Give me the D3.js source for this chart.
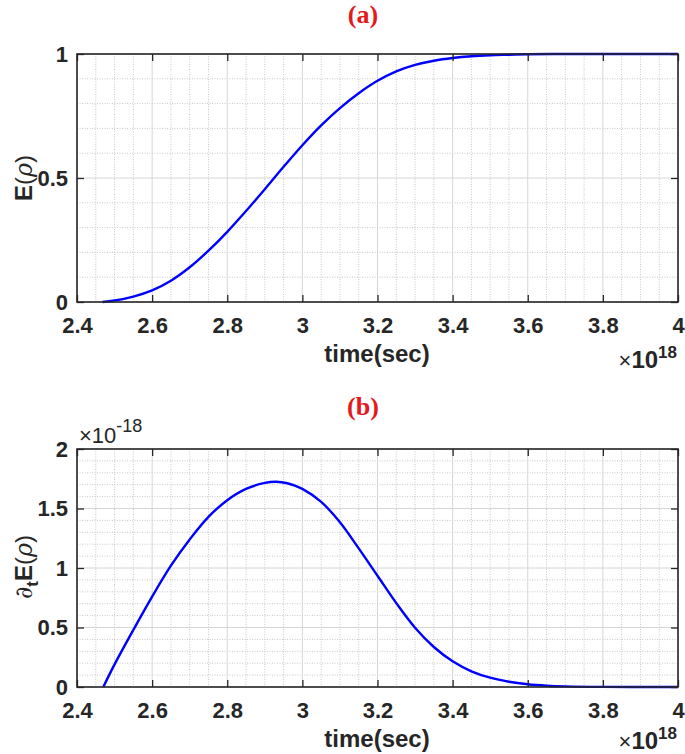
<!DOCTYPE html>
<html lang="en">
<head>
<meta charset="UTF-8">
<title>E(rho) and its time derivative</title>
<style>
  body { margin: 0; background: #fff; }
  svg text { font-family: "Liberation Sans", Arial, sans-serif; fill: #262626; }
</style>
</head>
<body>
<div id="chart"></div>
<script src="https://d3js.org/d3.v7.min.js"></script>
<script>
// time in units of 1e18 sec
var timeA = [2.468, 2.50, 2.55, 2.60, 2.65, 2.70, 2.75, 2.80, 2.85, 2.90, 2.95, 3.00, 3.05, 3.10,
  3.15, 3.20, 3.25, 3.30, 3.35, 3.40, 3.45, 3.50, 3.55, 3.60, 3.70, 3.80, 4.00];
var energy = [0, 0.006, 0.022, 0.047, 0.086, 0.14, 0.207, 0.283, 0.367, 0.455, 0.545, 0.632, 0.712, 0.782,
  0.842, 0.892, 0.930, 0.956, 0.973, 0.984, 0.991, 0.995, 0.997, 0.999, 1, 1, 1];

// derivative, in units of 1e-18
var timeB = [2.47, 2.50, 2.55, 2.60, 2.65, 2.70, 2.75, 2.80, 2.85, 2.90, 2.93, 2.96, 3.00, 3.05,
  3.10, 3.15, 3.20, 3.25, 3.30, 3.35, 3.40, 3.45, 3.50, 3.55, 3.60, 3.65, 3.70, 3.80, 3.90, 4.00];
var dEnergy = [0, 0.19, 0.48, 0.76, 1.02, 1.24, 1.43, 1.57, 1.665, 1.715, 1.725, 1.712, 1.665, 1.555,
  1.385, 1.165, 0.935, 0.705, 0.498, 0.336, 0.216, 0.132, 0.078, 0.044, 0.023, 0.011, 0.005, 0.0008, 0, 0];

var xTicks = [2.4, 2.6, 2.8, 3, 3.2, 3.4, 3.6, 3.8, 4];
var yTicksA = [0, 0.5, 1];
var yTicksB = [0, 0.5, 1, 1.5, 2];

var W = 685, H = 754;
var svg = d3.select('#chart').append('svg')
  .attr('width', W).attr('height', H);

var fmt = d3.format('~g');

function panel(opt) {
  var w = 601, h = opt.bottom - opt.top;
  var x = d3.scaleLinear().domain([2.4, 4]).range([0, w]);
  var y = d3.scaleLinear().domain(opt.yDomain).range([h, 0]);
  var g = svg.append('g').attr('transform', `translate(77, ${opt.top})`);

  // minor grid (dotted)
  var xMinor = d3.range(48, 81).filter(i => i % 4 != 0).map(i => i * 0.05);
  var yMinor = d3.range(0, opt.yDomain[1] * 10 + 1).filter(i => i % 5 != 0).map(i => i * 0.1);
  g.append('g').selectAll('line').data(xMinor).join('line')
    .attr('x1', d => x(d)).attr('x2', d => x(d)).attr('y1', 0).attr('y2', h)
    .attr('stroke', '#c8c8c8').attr('stroke-dasharray', '1,1.5');
  g.append('g').selectAll('line').data(yMinor).join('line')
    .attr('y1', d => y(d)).attr('y2', d => y(d)).attr('x1', 0).attr('x2', w)
    .attr('stroke', '#c8c8c8').attr('stroke-dasharray', '1,1.5');

  // major grid
  g.append('g').selectAll('line').data(xTicks).join('line')
    .attr('x1', d => x(d)).attr('x2', d => x(d)).attr('y1', 0).attr('y2', h)
    .attr('stroke', '#d6d6d6');
  g.append('g').selectAll('line').data(opt.yTicks).join('line')
    .attr('y1', d => y(d)).attr('y2', d => y(d)).attr('x1', 0).attr('x2', w)
    .attr('stroke', '#d6d6d6');

  // curve
  var line = d3.line()
    .x((d, i) => x(opt.xs[i]))
    .y(d => y(d))
    .curve(d3.curveCatmullRom.alpha(0.5));
  g.append('path').datum(opt.ys)
    .attr('d', line)
    .attr('fill', 'none')
    .attr('stroke', '#0000ff')
    .attr('stroke-width', 2.4);

  // axes, ticks pointing inward
  g.append('g').attr('transform', `translate(0, ${h})`)
    .call(d3.axisBottom(x).tickValues(xTicks).tickFormat(fmt).tickSizeInner(-7).tickSizeOuter(0).tickPadding(15));
  g.append('g')
    .call(d3.axisTop(x).tickValues(xTicks).tickFormat('').tickSizeInner(-7).tickSizeOuter(0));
  g.append('g')
    .call(d3.axisLeft(y).tickValues(opt.yTicks).tickFormat(fmt).tickSizeInner(-7).tickSizeOuter(0).tickPadding(9));
  g.append('g').attr('transform', `translate(${w}, 0)`)
    .call(d3.axisRight(y).tickValues(opt.yTicks).tickFormat('').tickSizeInner(-7).tickSizeOuter(0));

  g.selectAll('.domain').remove();
  g.selectAll('.tick line').attr('stroke', '#262626').attr('stroke-width', 1.3);
  g.selectAll('.tick text')
    .attr('fill', '#262626')
    .style('font-family', '"Liberation Sans", Arial, sans-serif')
    .style('font-size', '22px')
    .style('font-weight', 'bold');

  g.append('rect')
    .attr('width', w).attr('height', h)
    .attr('fill', 'none')
    .attr('stroke', '#262626')
    .attr('stroke-width', 1.6);

  // x label
  svg.append('text')
    .attr('x', 377).attr('y', opt.bottom + 60)
    .attr('text-anchor', 'middle')
    .style('font-size', '24px').style('font-weight', 'bold')
    .text('time(sec)');

  // x exponent
  var ex = svg.append('text')
    .attr('x', 677).attr('y', opt.bottom + opt.expGap)
    .attr('text-anchor', 'end')
    .style('font-size', '24px');
  ex.append('tspan').style('font-size', '22px').text('\u00d7');
  ex.append('tspan').style('font-weight', 'bold').text('10');
  ex.append('tspan').attr('dy', -10).style('font-size', '17px').style('font-weight', 'bold').text('18');

  // panel title
  svg.append('text')
    .attr('x', 363).attr('y', opt.top - opt.titleGap)
    .attr('text-anchor', 'middle')
    .style('font-family', '"Liberation Serif", "Times New Roman", serif')
    .style('font-size', '26px').style('font-weight', 'bold')
    .style('fill', '#e31a1c')
    .text(opt.title);

  return g;
}

panel({ top: 54, bottom: 302, yDomain: [0, 1], yTicks: yTicksA, xs: timeA, ys: energy,
  title: '(a)', titleGap: 31, expGap: 66 });
panel({ top: 449, bottom: 687, yDomain: [0, 2], yTicks: yTicksB, xs: timeB, ys: dEnergy,
  title: '(b)', titleGap: 34, expGap: 62 });

// y labels
var la = svg.append('text')
  .attr('transform', 'translate(32, 178) rotate(-90)')
  .attr('text-anchor', 'middle')
  .style('font-size', '24px');
la.append('tspan').style('font-weight', 'bold').text('E');
la.append('tspan').text('(');
la.append('tspan').style('font-family', '"DejaVu Serif", serif').style('font-style', 'italic').text('\u03c1');
la.append('tspan').text(')');

var lb = svg.append('text')
  .attr('transform', 'translate(32, 567) rotate(-90)')
  .attr('text-anchor', 'middle')
  .style('font-size', '24px');
lb.append('tspan').style('font-family', '"DejaVu Serif", serif').text('\u2202');
lb.append('tspan').attr('dy', 6).style('font-size', '17px').style('font-weight', 'bold').text('t');
lb.append('tspan').attr('dy', -6).style('font-weight', 'bold').text('E');
lb.append('tspan').text('(');
lb.append('tspan').style('font-family', '"DejaVu Serif", serif').style('font-style', 'italic').text('\u03c1');
lb.append('tspan').text(')');

// y exponent of panel (b)
var ey = svg.append('text')
  .attr('x', 79).attr('y', 443)
  .style('font-size', '22px');
ey.append('tspan').text('\u00d7');
ey.append('tspan').text('10');
ey.append('tspan').attr('dy', -11).style('font-size', '18px').text('-18');
</script>
</body>
</html>
